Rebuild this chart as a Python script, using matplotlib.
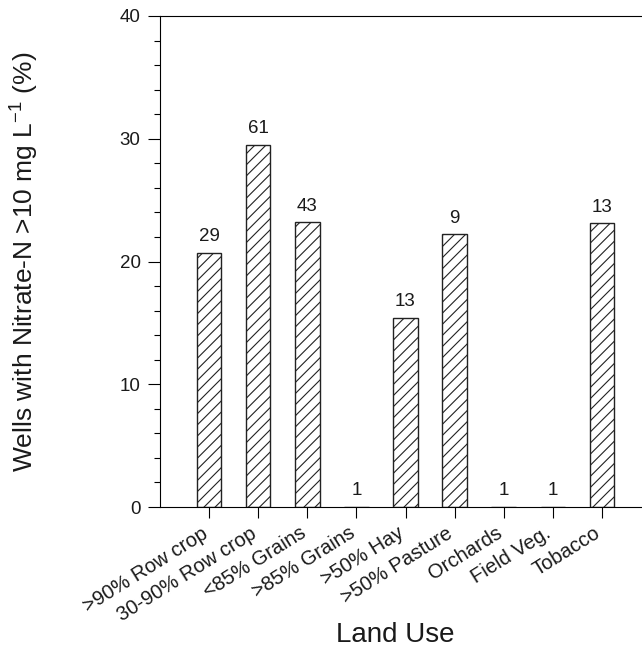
import numpy as np
import matplotlib
matplotlib.use('Agg')
import matplotlib.pyplot as plt
import matplotlib.transforms as mtransforms
from matplotlib.ticker import MultipleLocator

plt.rcParams['font.family'] = ['Liberation Sans', 'DejaVu Sans']
plt.rcParams['hatch.linewidth'] = 0.8

land_use = ['>90% Row crop', '30-90% Row crop', '<85% Grains', '>85% Grains',
            '>50% Hay', '>50% Pasture', 'Orchards', 'Field Veg.', 'Tobacco']
pct_wells = [20.7, 29.5, 23.2, 0.0, 15.4, 22.2, 0.0, 0.0, 23.1]
n_wells = [29, 61, 43, 1, 13, 9, 1, 1, 13]

fig = plt.figure(figsize=(6.42, 6.49), dpi=100)
ax = fig.add_axes([160 / 642, 142 / 649, 491 / 642, 491 / 649])

x = np.arange(len(land_use))
bars = ax.bar(x, pct_wells, width=0.5, color='white', edgecolor='#222222',
              linewidth=1.0, hatch='///')
for b, n in zip(bars, n_wells):
    ax.annotate(str(n), (b.get_x() + b.get_width() / 2, b.get_height()),
                xytext=(0, 5.5), textcoords='offset points',
                ha='center', va='bottom', fontsize=13.5, color='#1a1a1a')

ax.set_xlim(-1, 9)
ax.set_ylim(0, 40)
ax.yaxis.set_major_locator(MultipleLocator(10))
ax.yaxis.set_minor_locator(MultipleLocator(2))
ax.tick_params(axis='y', which='major', direction='out', length=9, width=0.8,
               labelsize=13.5, pad=5, labelcolor='#1a1a1a')
ax.tick_params(axis='y', which='minor', direction='out', length=4, width=0.8)
ax.tick_params(axis='x', direction='out', length=8, width=0.8, labelsize=14.5,
               pad=3, labelcolor='#1a1a1a')
ax.set_xticks(x)
ax.set_xticklabels(land_use, rotation=32, ha='right', rotation_mode='anchor')

# nudge the slanted category names a little left of their ticks
shift = mtransforms.ScaledTranslation(-6 / 72, -1 / 72, fig.dpi_scale_trans)
for lbl in ax.get_xticklabels():
    lbl.set_transform(lbl.get_transform() + shift)

ax.spines['right'].set_visible(False)
for s in ['left', 'top', 'bottom']:
    ax.spines[s].set_linewidth(0.8)

ax.set_ylabel(r'Wells with Nitrate-N >10 mg L$^{\mathregular{-1}}$ (%)',
              fontsize=19, color='#1a1a1a')
ax.yaxis.set_label_coords(-0.245, 0.5)
ax.set_xlabel('Land Use', fontsize=20, color='#1a1a1a')
ax.xaxis.set_label_coords(0.48, -0.235)

fig.savefig('out.png', dpi=100)
